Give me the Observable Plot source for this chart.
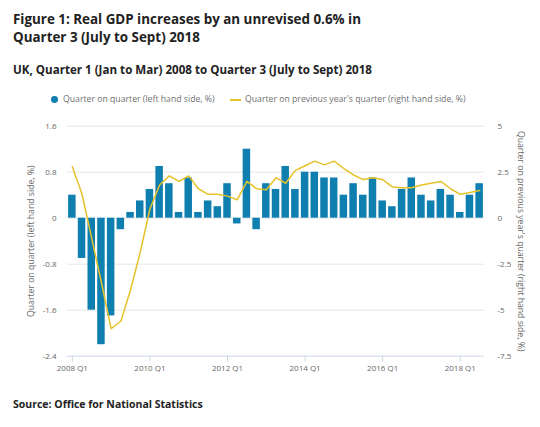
<!DOCTYPE html>
<html>
<head>
<meta charset="utf-8">
<script src="https://cdn.jsdelivr.net/npm/d3@7"></script>
<script src="https://cdn.jsdelivr.net/npm/@observablehq/plot@0.6"></script>
<style>
  html, body { margin: 0; padding: 0; background: #fff; }
  #wrap { position: relative; width: 540px; height: 427px; font-family: "Open Sans", sans-serif; overflow: hidden; }
  .title { position: absolute; left: 13px; top: 9.8px; font-size: 13.4px; line-height: 18px; font-weight: 700; color: #222; white-space: nowrap; }
  .subtitle { position: absolute; left: 13px; top: 62.5px; font-size: 11.6px; line-height: 14px; font-weight: 700; color: #222; white-space: nowrap; }
  .legend { position: absolute; left: 0; top: 94.2px; font-size: 8.7px; line-height: 10px; color: #707070; white-space: nowrap; width: 540px; height: 12px; }
  .legend .dot { position: absolute; left: 50.9px; top: 2.3px; width: 6.8px; height: 6.8px; border-radius: 50%; background: #0f7fb0; }
  .legend .t1 { position: absolute; left: 63px; top: 0; }
  .legend .ln { position: absolute; left: 230px; top: 5px; width: 11px; height: 1.5px; background: #e6c229; }
  .legend .t2 { position: absolute; left: 245px; top: 0; }
  .source { position: absolute; left: 13px; top: 397.7px; font-size: 10.5px; line-height: 13px; font-weight: 700; color: #222; white-space: nowrap; }
  #chart { position: absolute; left: 0; top: 110px; }
</style>
</head>
<body>
<div id="wrap">
  <div class="title">Figure 1: Real GDP increases by an unrevised 0.6% in<br>Quarter 3 (July to Sept) 2018</div>
  <div class="subtitle">UK, Quarter 1 (Jan to Mar) 2008 to Quarter 3 (July to Sept) 2018</div>
  <div class="legend">
    <span class="dot"></span><span class="t1">Quarter on quarter (left hand side, %)</span>
    <span class="ln"></span><span class="t2">Quarter on previous year's quarter (right hand side, %)</span>
  </div>
  <div id="chart"></div>
  <div class="source">Source: Office for National Statistics</div>
</div>
<script>
const quarters = [
  "2008 Q1","2008 Q2","2008 Q3","2008 Q4",
  "2009 Q1","2009 Q2","2009 Q3","2009 Q4",
  "2010 Q1","2010 Q2","2010 Q3","2010 Q4",
  "2011 Q1","2011 Q2","2011 Q3","2011 Q4",
  "2012 Q1","2012 Q2","2012 Q3","2012 Q4",
  "2013 Q1","2013 Q2","2013 Q3","2013 Q4",
  "2014 Q1","2014 Q2","2014 Q3","2014 Q4",
  "2015 Q1","2015 Q2","2015 Q3","2015 Q4",
  "2016 Q1","2016 Q2","2016 Q3","2016 Q4",
  "2017 Q1","2017 Q2","2017 Q3","2017 Q4",
  "2018 Q1","2018 Q2","2018 Q3"
];
// Quarter on quarter growth, % (left axis)
const qoq = [0.4,-0.7,-1.6,-2.2,-1.7,-0.2,0.1,0.3,0.5,0.9,0.6,0.1,0.7,0.1,0.3,0.2,0.6,-0.1,1.2,-0.2,0.6,0.5,0.9,0.5,0.8,0.8,0.7,0.7,0.4,0.6,0.4,0.7,0.3,0.2,0.5,0.7,0.4,0.3,0.5,0.4,0.1,0.4,0.6];
// Quarter on same quarter a year ago, % (right axis)
const yoy = [2.8,1.3,-1.1,-3.5,-6.0,-5.6,-3.9,-1.85,0.5,1.8,2.3,2.0,2.3,1.6,1.3,1.3,1.2,1.0,2.0,1.6,1.55,2.2,1.9,2.6,2.85,3.1,2.9,3.1,2.7,2.35,2.1,2.2,2.1,1.7,1.65,1.65,1.8,1.9,2.0,1.6,1.3,1.4,1.5];
const xTickLabels = ["2008 Q1","2010 Q1","2012 Q1","2014 Q1","2016 Q1","2018 Q1"];
const leftTicks = [-2.4,-1.6,-0.8,0,0.8,1.6];
const rightTicks = [-7.5,-5,-2.5,0,2.5,5];
const leftLabel = "Quarter on quarter (left hand side, %)";
const rightLabel = "Quarter on previous year's quarter (right hand side, %)";

const blue = "#0f7fb0";
const yellow = "#e6c229";
// right axis maps onto left axis: 5 -> 1.6, -7.5 -> -2.4
const k = 1.6 / 5;

const data = quarters.map((q, i) => ({q, i, qoq: qoq[i], yoy: yoy[i]}));
const xTicks = xTickLabels.map(l => quarters.indexOf(l));

const chart = Plot.plot({
  width: 540,
  height: 270,
  marginTop: 15.7,
  marginBottom: 24.3,
  marginLeft: 67,
  marginRight: 56,
  style: {fontFamily: "Open Sans, sans-serif", fontSize: "8px", color: "#666", background: "transparent", overflow: "visible"},
  x: {type: "linear", domain: [-0.5, quarters.length - 0.5]},
  y: {domain: [-2.4, 1.6]},
  marks: [
    Plot.gridY(leftTicks.filter(d => d !== -2.4), {stroke: "#e6e6e6", strokeOpacity: 1}),
    Plot.rect(data, {x1: d => d.i - 0.5, x2: d => d.i + 0.5, y1: 0, y2: "qoq", fill: blue, insetLeft: 1.1, insetRight: 1.1}),
    Plot.line(data, {x: "i", y: d => d.yoy * k, stroke: yellow, strokeWidth: 1.5}),
    Plot.ruleY([-2.4], {stroke: "#ccd6eb", strokeWidth: 1}),
    Plot.axisX({ticks: xTicks, tickFormat: i => quarters[i], tickSize: 6, tickPadding: 3, stroke: "#ccd6eb", fill: "#666", label: null}),
    Plot.axisY({anchor: "left", ticks: leftTicks, tickFormat: d => String(d), tickSize: 0, tickPadding: 11, fill: "#666", label: null}),
    Plot.axisY({anchor: "right", ticks: rightTicks.map(v => v * k), tickFormat: d => String(Math.round(d / k * 10) / 10), tickSize: 0, tickPadding: 13, fill: "#666", label: null}),
    Plot.text([leftLabel], {frameAnchor: "left", textAnchor: "middle", lineAnchor: "middle", dx: -36, rotate: -90, fill: "#666", fontSize: 8.7}),
    Plot.text([rightLabel], {frameAnchor: "right", textAnchor: "middle", lineAnchor: "middle", dx: 36, rotate: 90, fill: "#666", fontSize: 8.7})
  ]
});
document.getElementById("chart").appendChild(chart);
</script>
</body>
</html>
